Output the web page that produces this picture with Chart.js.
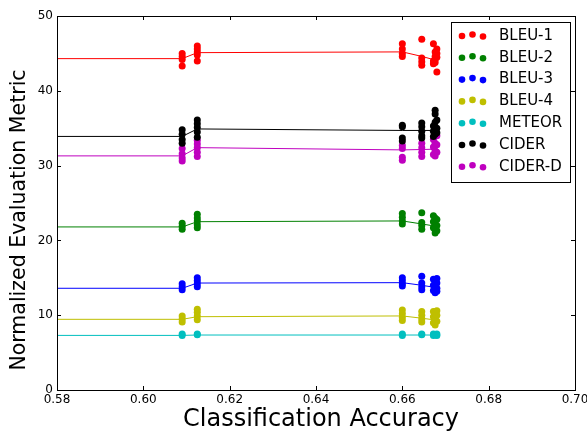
<!DOCTYPE html>
<html>
<head>
<meta charset="utf-8">
<script src="https://cdn.jsdelivr.net/npm/chart.js@4.4.0/dist/chart.umd.min.js"></script>
<style>
  body { margin: 0; background: #fff; }
  canvas { display: block; }
</style>
</head>
<body>
<canvas id="chart" width="587" height="434"></canvas>
<script>
// --- datos ---
const xTicks = [0.58, 0.60, 0.62, 0.64, 0.66, 0.68, 0.70];
const yTicks = [0, 10, 20, 30, 40, 50];

// precision de cada grupo de puntos
const groupX = [0.609, 0.6125, 0.660, 0.6645, 0.6672, 0.6676, 0.668];
// x de la linea de medias
const lineX = [0.58, 0.609, 0.6125, 0.660, 0.6645, 0.6677];

const metricNames = ["BLEU-1", "BLEU-2", "BLEU-3", "BLEU-4", "METEOR", "CIDER", "CIDER-D"];
const metricColors = ["#ff0000", "#008000", "#0000ff", "#bfbf00", "#00bfbf", "#000000", "#bf00bf"];

const xTitle = "Classification Accuracy";
const yTitle = "Normalized Evaluation Metric";

// valores por grupo (mismo orden que groupX)
const bleu1Points = [
  [45.0, 44.6, 44.2, 43.3],
  [46.0, 45.6, 45.2, 44.8, 44.0],
  [46.3, 45.6, 45.0, 44.6],
  [46.9, 44.4, 43.9, 43.4],
  [46.3, 44.0, 43.6],
  [45.2, 44.6, 44.2, 43.8],
  [45.6, 45.0, 44.5, 42.5],
];
const bleu2Points = [
  [22.3, 21.9, 21.5],
  [23.5, 23.0, 22.6, 22.1, 21.7],
  [23.6, 23.1, 22.6, 22.2],
  [23.7, 22.4, 22.0, 21.5],
  [23.3, 22.5, 21.7],
  [23.0, 22.2, 21.4, 21.0],
  [22.8, 22.0, 21.3],
];
const bleu3Points = [
  [14.2, 13.8, 13.4],
  [15.0, 14.6, 14.2, 13.8],
  [15.0, 14.6, 14.2, 13.9],
  [15.2, 14.3, 13.8, 13.4],
  [14.8, 14.0, 13.3],
  [14.6, 13.8, 13.0],
  [14.9, 14.3, 13.6, 13.2],
];
const bleu4Points = [
  [9.9, 9.5, 9.1],
  [10.8, 10.4, 9.9, 9.4],
  [10.7, 10.2, 9.7, 9.3],
  [10.5, 10.0, 9.5, 9.1],
  [10.5, 9.8, 9.0],
  [10.2, 9.4, 8.7],
  [10.6, 10.0, 9.2],
];
const meteorPoints = [
  [7.5, 7.3],
  [7.5, 7.4],
  [7.5, 7.3],
  [7.5, 7.4],
  [7.5, 7.3],
  [7.4],
  [7.5, 7.3],
];
const ciderPoints = [
  [34.8, 34.2, 33.5, 33.0],
  [36.1, 35.6, 35.1, 34.5, 33.8],
  [35.4, 35.2, 33.7, 33.3],
  [35.7, 35.2, 34.6, 34.0, 33.7],
  [35.3, 34.6, 33.9],
  [37.4, 36.9, 35.8, 34.2],
  [35.0, 34.4, 36.1],
];
const ciderDPoints = [
  [32.3, 31.6, 31.0, 30.6],
  [33.4, 32.9, 32.4, 31.8, 31.2],
  [32.7, 32.3, 31.1, 30.7],
  [33.0, 32.4, 31.8, 31.2],
  [33.5, 32.5, 31.5],
  [35.0, 33.0, 32.0, 31.3],
  [34.0, 32.8, 31.8],
];

// lineas de medias (mismo orden que lineX)
const bleu1Line = [44.3, 44.3, 45.1, 45.2, 44.6, 44.1];
const bleu2Line = [21.8, 21.8, 22.5, 22.6, 22.2, 21.9];
const bleu3Line = [13.6, 13.6, 14.3, 14.35, 14.0, 13.7];
const bleu4Line = [9.45, 9.45, 9.8, 9.9, 9.6, 9.35];
const meteorLine = [7.3, 7.3, 7.35, 7.35, 7.35, 7.35];
const ciderLine = [33.9, 33.9, 34.9, 34.7, 34.7, 34.7];
const ciderDLine = [31.3, 31.3, 32.4, 32.1, 32.15, 32.2];

const allPoints = [bleu1Points, bleu2Points, bleu3Points, bleu4Points, meteorPoints, ciderPoints, ciderDPoints];
const allLines = [bleu1Line, bleu2Line, bleu3Line, bleu4Line, meteorLine, ciderLine, ciderDLine];

const FONT = "'DejaVu Sans', sans-serif";

// armar datasets: primero puntos, luego lineas
const datasets = [];
metricNames.forEach((name, i) => {
  const pts = [];
  allPoints[i].forEach((group, g) => {
    group.forEach((v) => pts.push({ x: groupX[g], y: v }));
  });
  datasets.push({
    label: name,
    data: pts,
    backgroundColor: metricColors[i],
    borderColor: metricColors[i],
    borderWidth: 0,
    pointRadius: 3.5,
    showLine: false,
    order: 0,
  });
});
metricNames.forEach((name, i) => {
  datasets.push({
    label: name + " media",
    data: allLines[i].map((v, k) => ({ x: lineX[k], y: v })),
    borderColor: metricColors[i],
    borderWidth: 1,
    pointRadius: 0,
    showLine: true,
    order: 1,
  });
});

// marco, ticks hacia dentro, titulos de ejes y leyenda estilo matplotlib
const framePlugin = {
  id: "frame",
  afterDraw(chart) {
    const { ctx, chartArea: a, scales } = chart;
    ctx.save();
    ctx.strokeStyle = "#000";
    ctx.lineWidth = 1;
    ctx.beginPath();
    xTicks.forEach((v) => {
      const px = Math.round(scales.x.getPixelForValue(v)) + 0.5;
      ctx.moveTo(px, a.bottom);
      ctx.lineTo(px, a.bottom - 4);
      ctx.moveTo(px, a.top);
      ctx.lineTo(px, a.top + 4);
    });
    yTicks.forEach((v) => {
      const py = Math.round(scales.y.getPixelForValue(v)) + 0.5;
      ctx.moveTo(a.left, py);
      ctx.lineTo(a.left + 4, py);
      ctx.moveTo(a.right, py);
      ctx.lineTo(a.right - 4, py);
    });
    ctx.stroke();
    ctx.strokeRect(Math.round(a.left) + 0.5, Math.round(a.top) + 0.5,
      Math.round(a.right - a.left), Math.round(a.bottom - a.top));

    // titulos de ejes
    ctx.fillStyle = "#000";
    ctx.textAlign = "center";
    ctx.textBaseline = "middle";
    ctx.font = "24px " + FONT;
    ctx.fillText(xTitle, 321, 420);
    ctx.save();
    ctx.translate(20, 220);
    ctx.rotate(-Math.PI / 2);
    ctx.font = "20.5px " + FONT;
    ctx.fillText(yTitle, 0, 0);
    ctx.restore();

    // leyenda
    const lx = 451.5, ly = 22.5, lw = 119, lh = 160;
    ctx.fillStyle = "#fff";
    ctx.fillRect(lx, ly, lw, lh);
    ctx.strokeRect(lx, ly, lw, lh);
    ctx.font = "15px " + FONT;
    ctx.textAlign = "left";
    ctx.textBaseline = "middle";
    metricNames.forEach((name, i) => {
      const cy = 36 + i * 21.8;
      ctx.fillStyle = metricColors[i];
      [[462, 0], [472.5, -1.5], [483, 0.5]].forEach(([dx, dy]) => {
        ctx.beginPath();
        ctx.arc(dx, cy + dy, 3.3, 0, Math.PI * 2);
        ctx.fill();
      });
      ctx.fillStyle = "#000";
      ctx.fillText(name, 499, cy);
    });
    ctx.restore();
  },
};

new Chart(document.getElementById("chart"), {
  type: "scatter",
  data: { datasets },
  options: {
    responsive: false,
    animation: false,
    devicePixelRatio: 1,
    layout: { padding: { top: 16, right: 12, left: 0, bottom: 0 } },
    plugins: { legend: { display: false }, tooltip: { enabled: false } },
    scales: {
      x: {
        type: "linear",
        min: 0.58,
        max: 0.70,
        grid: { display: false, drawTicks: false },
        border: { display: false },
        afterBuildTicks: (s) => { s.ticks = xTicks.map((v) => ({ value: v })); },
        afterFit: (s) => { s.height = 44; s.paddingLeft = 0; s.paddingRight = 0; },
        ticks: {
          color: "#000",
          font: { family: FONT, size: 12 },
          padding: 3,
          maxRotation: 0,
          callback: (v) => v.toFixed(2),
        },
      },
      y: {
        min: 0,
        max: 50,
        grid: { display: false, drawTicks: false },
        border: { display: false },
        afterBuildTicks: (s) => { s.ticks = yTicks.map((v) => ({ value: v })); },
        afterFit: (s) => { s.width = 57; },
        ticks: {
          color: "#000",
          font: { family: FONT, size: 12 },
          padding: 4,
        },
      },
    },
  },
  plugins: [framePlugin],
});
</script>
</body>
</html>
